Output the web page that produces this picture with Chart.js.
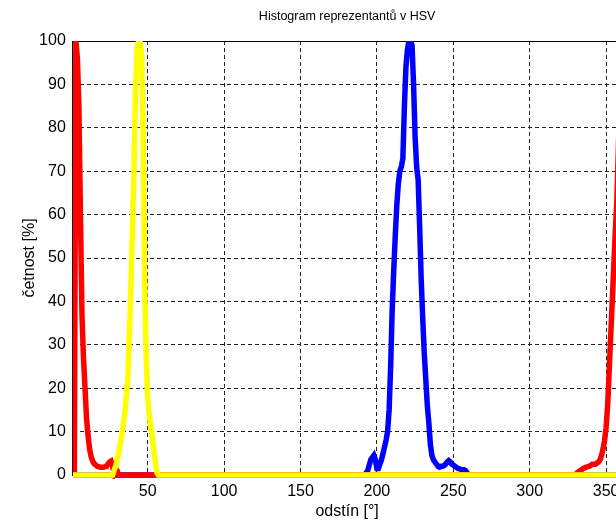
<!DOCTYPE html>
<html>
<head>
<meta charset="utf-8">
<script src="https://cdn.jsdelivr.net/npm/chart.js@4.4.1/dist/chart.umd.min.js"></script>
<style>
  html, body { margin: 0; padding: 0; background: #fff; overflow: hidden; }
  #wrap { width: 616px; height: 522px; overflow: hidden; }
  canvas { display: block; }
</style>
</head>
<body>
<div id="wrap"><canvas id="hist" width="640" height="522"></canvas></div>
<script>
// Histogram values (hue in degrees, frequency in %)
const yellowHue = [1, 27, 29, 31, 33, 35, 36, 37, 38, 39, 40, 41, 42, 43, 44, 45, 46, 47, 48, 49, 50, 51, 52, 53, 54, 55, 56, 57, 360]
const yellowPct = [0, 0, 2, 5, 9, 14, 18, 22, 32, 43, 56, 70, 88, 98, 100, 100, 97, 80, 45, 28, 18, 14, 11, 9, 6, 3, 0.5, 0, 0]

const redHue = [1, 2, 3, 4, 5, 6, 7, 8, 9, 10, 11, 12, 13, 14, 15, 17, 19, 21, 23, 24, 25, 26, 27, 28, 29, 30, 31,
  330, 331, 333, 335, 337, 339, 341, 343, 345, 346, 347, 348, 349, 350, 351, 352, 353, 354, 355, 356, 357, 358, 359, 360]
const redPct = [0, 0, 100, 96, 85, 60, 37, 27, 20, 13, 9, 6, 4.2, 3.2, 2.6, 2, 1.8, 1.8, 2, 2.5, 3, 3.2, 2, 0.5, 1.5, 1, 0,
  0, 0.5, 1, 1.5, 1.8, 2, 2.5, 2.5, 3, 3.5, 4.5, 6, 8, 11, 16, 24, 32, 40, 48, 56, 63, 75, 88, 100]

const blueHue = [1, 192, 194, 196, 198, 199, 200, 201, 202, 203, 204, 205, 206, 207, 208, 209, 210, 211, 212, 213, 214, 215,
  216, 217, 218, 219, 220, 221, 222, 223, 224, 225, 226, 227, 228, 229, 230, 231, 232, 233, 234, 235, 236, 237, 238, 239,
  240, 241, 242, 243, 244, 245, 246, 247, 248, 249, 250, 251, 252, 253, 254, 255, 256, 257, 258, 259, 260, 360]
const bluePct = [0, 0, 1, 3.5, 4.5, 3.5, 1.5, 1.5, 2.5, 3.5, 5, 6.5, 8, 10, 15, 25, 38, 47, 55, 62, 67, 70,
  71, 73, 85, 94, 98, 100, 100, 99, 90, 78, 71, 68, 57, 45, 36, 28, 22, 16, 12, 7, 4.5, 3.5, 3, 2.5,
  2, 1.8, 2, 2, 2.2, 2.5, 3, 3.3, 3, 2.5, 2.3, 2, 1.8, 1.5, 1.4, 1.3, 1.2, 1.2, 1, 0.5, 0, 0]

const xTicks = [50, 100, 150, 200, 250, 300, 350]
const yTicks = [0, 10, 20, 30, 40, 50, 60, 70, 80, 90, 100]

const FONT = "'Liberation Sans', Arial, sans-serif"

function points(hue, pct) {
  return hue.map((h, i) => ({ x: h, y: pct[i] }))
}

// solid top edge of the axes box
const boxTop = {
  id: "boxTop",
  beforeDatasetsDraw(chart) {
    const { ctx, chartArea } = chart
    ctx.save()
    ctx.strokeStyle = "#000"
    ctx.lineWidth = 1
    ctx.beginPath()
    ctx.moveTo(chartArea.left, chartArea.top + 0.5)
    ctx.lineTo(chartArea.right, chartArea.top + 0.5)
    ctx.stroke()
    ctx.restore()
  },
}

const lineClip = { left: 0, top: 0, right: 0, bottom: 4 }

new Chart(document.getElementById("hist"), {
  type: "line",
  data: {
    datasets: [
      { data: points(yellowHue, yellowPct), borderColor: "#ffff00", borderWidth: 5.5, clip: lineClip },
      { data: points(redHue, redPct), borderColor: "#ff0000", borderWidth: 5.5, clip: lineClip },
      { data: points(blueHue, bluePct), borderColor: "#0000ff", borderWidth: 5.5, clip: lineClip },
    ],
  },
  options: {
    responsive: false,
    animation: false,
    events: [],
    elements: { point: { radius: 0 }, line: { tension: 0 } },
    layout: { padding: { left: 0, top: 0, right: 18.6, bottom: 0 } },
    plugins: {
      legend: { display: false },
      tooltip: { enabled: false },
      title: {
        display: true,
        text: "Histogram reprezentantů v HSV",
        fullSize: false,
        color: "#000",
        font: { family: FONT, size: 12.5, weight: "normal" },
        padding: { top: 9.5, bottom: 16.5 },
      },
    },
    scales: {
      x: {
        type: "linear",
        min: 1,
        max: 360,
        afterBuildTicks: (scale) => { scale.ticks = xTicks.map((v) => ({ value: v })) },
        afterFit: (scale) => { scale.height = 47 },
        grid: { color: "#222", lineWidth: 1, drawTicks: false },
        border: { display: true, color: "#000", width: 1, dash: [4, 3] },
        ticks: { color: "#000", padding: 7.4, maxRotation: 0, font: { family: FONT, size: 16 } },
        title: {
          display: true,
          text: "odstín [°]",
          color: "#000",
          font: { family: FONT, size: 16 },
          padding: { top: 0, bottom: 0.4 },
        },
      },
      y: {
        min: 0,
        max: 100,
        afterBuildTicks: (scale) => { scale.ticks = yTicks.map((v) => ({ value: v })) },
        afterFit: (scale) => { scale.width = 72.8 },
        grid: { color: "#222", lineWidth: 1, drawTicks: false },
        border: { display: true, color: "#000", width: 1, dash: [4, 3] },
        ticks: { color: "#000", padding: 7, font: { family: FONT, size: 16 } },
        title: {
          display: true,
          text: "četnost [%]",
          color: "#000",
          font: { family: FONT, size: 16 },
          padding: { top: 20.4, bottom: 0 },
        },
      },
    },
  },
  plugins: [boxTop],
})
</script>
</body>
</html>
